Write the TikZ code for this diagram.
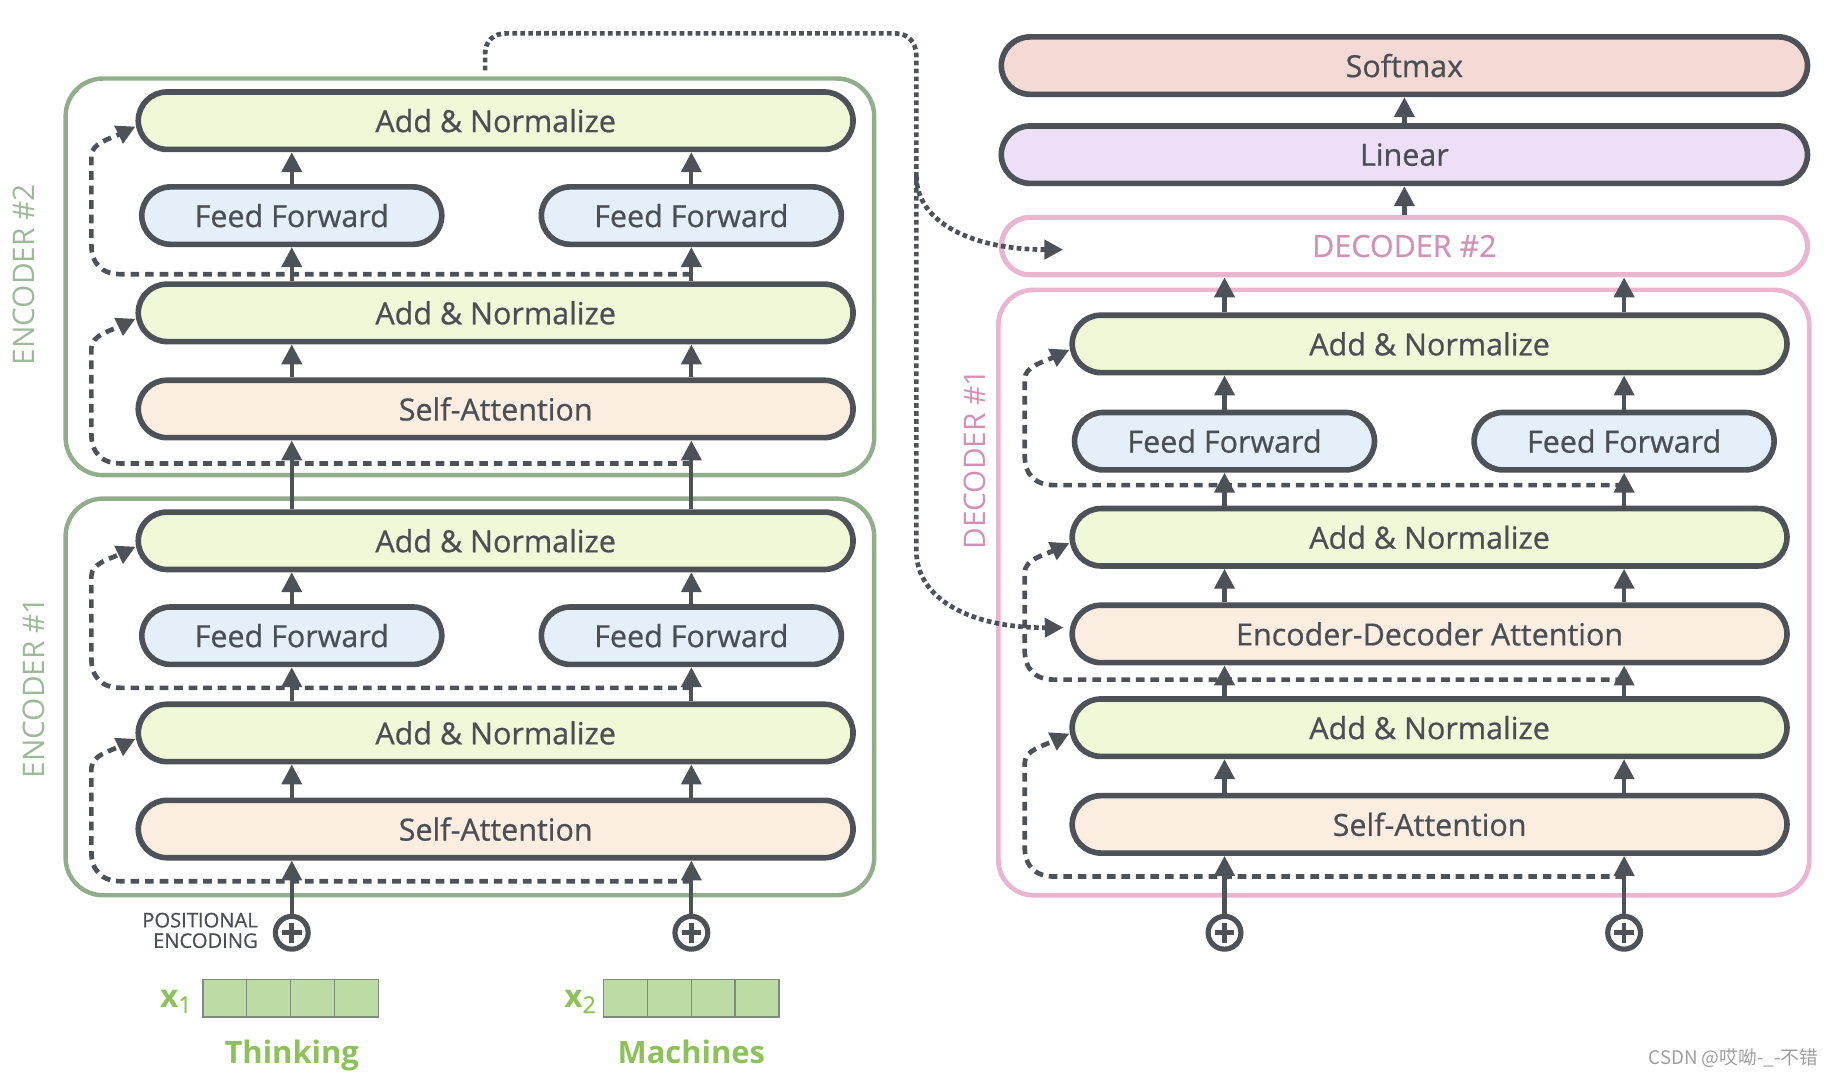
\documentclass[tikz,border=0pt]{standalone}
\usepackage{fontspec}
\setmainfont{Open Sans}
\newfontfamily\medfont{Open Sans}[FakeBold=0.7]
\newfontfamily\cjkfont{Noto Sans CJK SC}
\usetikzlibrary{arrows.meta,calc}
\definecolor{dk}{HTML}{4D5258}
\definecolor{txt}{HTML}{4A4F56}
\definecolor{anc}{HTML}{EFF8D7}
\definecolor{ffc}{HTML}{E5EFFA}
\definecolor{sac}{HTML}{FBEEE1}
\definecolor{softc}{HTML}{F5D9D5}
\definecolor{linc}{HTML}{ECDFF6}
\definecolor{encg}{HTML}{91AD8C}
\definecolor{enclab}{HTML}{9DBA98}
\definecolor{pinkb}{HTML}{E9B5D0}
\definecolor{pinkt}{HTML}{D392B5}
\definecolor{grn}{HTML}{8DC25B}
\definecolor{cellf}{HTML}{BCDBA5}
\definecolor{cellb}{HTML}{7F8C7B}
\definecolor{wmc}{HTML}{9E9E9E}
\tikzset{
  blk/.style={draw=dk, line width=2.4pt, rounded corners=12.25pt, minimum height=24.5pt,
    inner sep=0pt, text=txt, font=\medfont\fontsize{13}{15}\selectfont},
  widebox/.style={blk, minimum width=305pt},
  anbox/.style={widebox, fill=anc},
  sabox/.style={widebox, fill=sac},
  ffbox/.style={blk, minimum width=128pt, fill=ffc},
  topbox/.style={blk, minimum width=344pt},
  encouter/.style={draw=encg, line width=1.9pt, rounded corners=16pt, minimum width=345pt,
    minimum height=169.25pt, inner sep=0pt},
  declab/.style={rotate=90, font=\fontsize{12.7}{14}\selectfont},
  arr/.style={draw=dk, line width=1.8pt, -{Triangle[width=8.5pt,length=8.5pt]}},
  res/.style={draw=dk, line width=2pt, dash pattern=on 3.7pt off 2.5pt,
    -{Triangle[width=8pt,length=8pt]}},
  dotl/.style={draw=dk, line width=2pt, dash pattern=on 2pt off 1.4pt},
  dotarr/.style={dotl, -{Triangle[width=8pt,length=8pt]}},
  plusc/.style={circle, draw=dk, line width=2.2pt, minimum size=14pt, inner sep=0pt},
  pluss/.style={draw=dk, line width=2pt},
  cell/.style={draw=cellb, fill=cellf, line width=0.7pt, minimum width=18.75pt,
    minimum height=16pt, inner sep=0pt},
  word/.style={text=grn, anchor=base, inner sep=0pt, font=\bfseries\fontsize{13.2}{15}\selectfont}
}
\begin{document}
\begin{tikzpicture}[x=0.5pt,y=-0.5pt]
\useasboundingbox (0,0) rectangle (1560,915);

% ---------- outer containers ----------
\node[encouter] (enc2) at (401,236.25) {};
\node[encouter] (enc1) at (401,594.75) {};
\node[draw=pinkb, line width=2pt, rounded corners=15pt, minimum width=346pt,
      minimum height=258.3pt, inner sep=0pt] (dec1) at (1198,505.7) {};

\node[declab, text=enclab] (lenc2) at (20,234.5) {ENCODER \#2};
\node[declab, text=enclab] (lenc1) at (29,587) {ENCODER \#1};
\node[declab, text=pinkt] (ldec1) at (832,392) {DECODER \#1};

% ---------- encoder 2 ----------
\node[anbox] (e2an2) at (423,103) {Add \& Normalize};
\node[ffbox] (e2ffa) at (249,184) {Feed Forward};
\node[ffbox] (e2ffb) at (590,184) {Feed Forward};
\node[anbox] (e2an1) at (423,267) {Add \& Normalize};
\node[sabox] (e2sa) at (423,349) {Self-Attention};

% ---------- encoder 1 ----------
\node[anbox] (e1an2) at (423,461.5) {Add \& Normalize};
\node[ffbox] (e1ffa) at (249,542.5) {Feed Forward};
\node[ffbox] (e1ffb) at (590,542.5) {Feed Forward};
\node[anbox] (e1an1) at (423,625.5) {Add \& Normalize};
\node[sabox] (e1sa) at (423,707.5) {Self-Attention};

% ---------- inputs ----------
\node[plusc] (p1) at (249,796) {};
\node[plusc] (p2) at (590,796) {};
\node[anchor=east, align=right, text=txt, font=\medfont\fontsize{8.6}{8.75}\selectfont] (pe) at (227,794) {POSITIONAL\\ENCODING};

\node[cell] (c11) at (191.75,852) {};
\node[cell] (c12) at (229.25,852) {};
\node[cell] (c13) at (266.75,852) {};
\node[cell] (c14) at (304.25,852) {};
\node[cell] (c21) at (533.75,852) {};
\node[cell] (c22) at (571.25,852) {};
\node[cell] (c23) at (608.75,852) {};
\node[cell] (c24) at (646.25,852) {};
\node[anchor=east, text=grn, inner sep=0pt] (x1) at (164,855) {{\bfseries\fontsize{13.5}{15}\selectfont x}\raisebox{-2.2pt}{\medfont\fontsize{10}{10}\selectfont 1}};
\node[anchor=east, text=grn, inner sep=0pt] (x2) at (509,855) {{\bfseries\fontsize{13.5}{15}\selectfont x}\raisebox{-2.2pt}{\medfont\fontsize{10}{10}\selectfont 2}};
\node[word] (w1) at (249,908) {Thinking};
\node[word] (w2) at (590,908) {Machines};

% ---------- decoder side ----------
\node[topbox, fill=softc] (soft) at (1198.5,56) {Softmax};
\node[topbox, fill=linc] (lin) at (1198.5,132) {Linear};
\node[topbox, draw=pinkb, line width=2.2pt, fill=white, text=pinkt] (dec2) at (1198.5,210) {DECODER \#2};

\node[anbox] (dan3) at (1220,293.5) {Add \& Normalize};
\node[ffbox] (dffa) at (1045,376.5) {Feed Forward};
\node[ffbox] (dffb) at (1386,376.5) {Feed Forward};
\node[anbox] (dan2) at (1220,458.5) {Add \& Normalize};
\node[sabox] (ded) at (1220,541) {Encoder-Decoder Attention};
\node[anbox] (dan1) at (1220,621) {Add \& Normalize};
\node[sabox] (dsa) at (1220,703.5) {Self-Attention};
\node[plusc] (dp1) at (1045,796) {};
\node[plusc] (dp2) at (1386,796) {};

% plus signs
\foreach \p in {p1,p2,dp1,dp2}{
  \draw[pluss] ([xshift=-4.2pt]\p.center) -- ([xshift=4.2pt]\p.center)
               ([yshift=-4.2pt]\p.center) -- ([yshift=4.2pt]\p.center);
}

% ---------- encoder arrows ----------
\foreach \c/\q in {e1ffa/p1,e1ffb/p2}{
  \draw[arr] (\q.north) -- (e1sa.south -| \q);
  \draw[arr] (e1sa.north -| \c) -- (e1an1.south -| \c);
  \draw[arr] (e1an1.north -| \c) -- (\c.south);
  \draw[arr] (\c.north) -- (e1an2.south -| \c);
  \draw[arr] (e1an2.north -| \c) -- (e2sa.south -| \c);
}
\foreach \c in {e2ffa,e2ffb}{
  \draw[arr] (e2sa.north -| \c) -- (e2an1.south -| \c);
  \draw[arr] (e2an1.north -| \c) -- (\c.south);
  \draw[arr] (\c.north) -- (e2an2.south -| \c);
}

% ---------- decoder arrows ----------
\foreach \c/\q in {dffa/dp1,dffb/dp2}{
  \draw[arr] (\q.north) -- (dsa.south -| \q);
  \draw[arr] (dsa.north -| \c) -- (dan1.south -| \c);
  \draw[arr] (dan1.north -| \c) -- (ded.south -| \c);
  \draw[arr] (ded.north -| \c) -- (dan2.south -| \c);
  \draw[arr] (dan2.north -| \c) -- (\c.south);
  \draw[arr] (\c.north) -- (dan3.south -| \c);
  \draw[arr] (dan3.north -| \c) -- (dec2.south -| \c);
}
\draw[arr] (dec2.north) -- (lin.south);
\draw[arr] (lin.north) -- (soft.south);

% ---------- residual connections ----------
\coordinate (er1) at (590,752);
\coordinate (er2) at (590,587);
\coordinate (er3) at (590,395.5);
\coordinate (er4) at (590,234);
\draw[res] (er1) -- (103,752) .. controls (87,752) and (78,743) .. (78,727)
  -- (78,655.5) .. controls (78,644.5) and (95,640.5) .. ([yshift=-2.5pt]e1an1.west);
\draw[res] (er2) -- (103,587) .. controls (87,587) and (78,578) .. (78,562)
  -- (78,491.5) .. controls (78,480.5) and (95,476.5) .. ([yshift=-2.5pt]e1an2.west);
\draw[res] (er3) -- (103,395.5) .. controls (87,395.5) and (78,386.5) .. (78,370.5)
  -- (78,297) .. controls (78,286) and (95,282) .. ([yshift=-2.5pt]e2an1.west);
\draw[res] (er4) -- (103,234) .. controls (87,234) and (78,225) .. (78,209)
  -- (78,133) .. controls (78,122) and (95,118) .. ([yshift=-2.5pt]e2an2.west);

\coordinate (dr1) at (1386,748);
\coordinate (dr2) at (1386,580);
\coordinate (dr3) at (1386,414);
\draw[res] (dr1) -- (899.5,748) .. controls (883.5,748) and (874.5,739) .. (874.5,723)
  -- (874.5,651) .. controls (874.5,640) and (891.5,636) .. ([yshift=-2.5pt]dan1.west);
\draw[res] (dr2) -- (899.5,580) .. controls (883.5,580) and (874.5,571) .. (874.5,555)
  -- (874.5,488.5) .. controls (874.5,477.5) and (891.5,473.5) .. ([yshift=-2.5pt]dan2.west);
\draw[res] (dr3) -- (899.5,414) .. controls (883.5,414) and (874.5,405) .. (874.5,389)
  -- (874.5,323.5) .. controls (874.5,312.5) and (891.5,308.5) .. ([yshift=-2.5pt]dan3.west);

% ---------- encoder output to decoders (dotted) ----------
\coordinate (ds) at (414,60);
\coordinate (dbr) at (782,150);
\draw[dotarr] (ds) -- (414,46) .. controls (414,35) and (421,28.5) .. (432,28.5)
  -- (764,28.5) .. controls (775,28.5) and (782,36) .. (782,48)
  -- (782,470) .. controls (782,512) and (830,536) .. ([xshift=-2.5pt,yshift=2.7pt]ded.west);
\draw[dotarr] (dbr) .. controls (782,190) and (830,213) .. ([xshift=27.5pt,yshift=-1.5pt]dec2.west);

% ---------- watermark ----------
\node[anchor=east, text=wmc, inner sep=0pt, font=\cjkfont\fontsize{8}{9}\selectfont] (wm) at (1552,903) {CSDN @哎呦-\_-不错};
\end{tikzpicture}
\end{document}
